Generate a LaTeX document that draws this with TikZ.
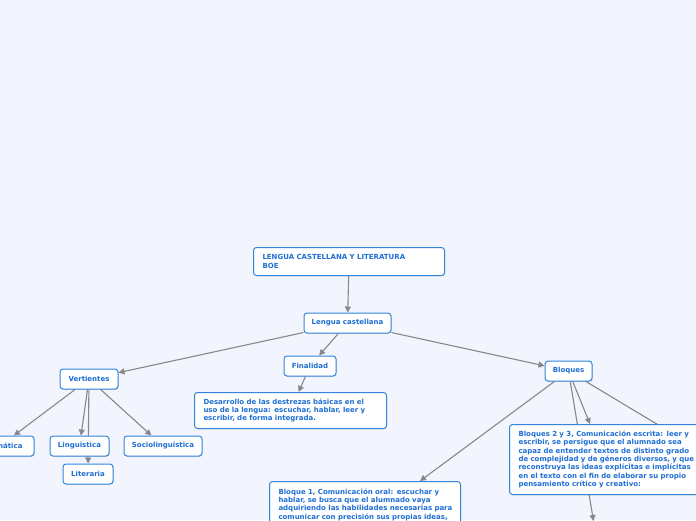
\documentclass[tikz,border=0pt]{standalone}
\usepackage{fontspec}
\setmainfont{DejaVu Sans}
\usetikzlibrary{arrows.meta,shadows,calc}
\definecolor{bgc}{RGB}{242,245,254}
\definecolor{boxb}{RGB}{52,132,222}
\definecolor{txtc}{RGB}{30,110,212}
\definecolor{linec}{RGB}{136,136,140}
\pgfdeclarelayer{bglayer}
\pgfdeclarelayer{edges}
\pgfsetlayers{bglayer,edges,main}
\tikzset{
  mmbox/.style={draw=boxb, line width=1pt, fill=white, rounded corners=3pt,
    text=txtc, font=\fontsize{7}{8.4}\selectfont\bfseries,
    drop shadow={shadow xshift=0.7pt, shadow yshift=-0.8pt, opacity=0.22, fill=black!60}},
  small/.style={mmbox, minimum height=20pt, inner xsep=2pt, inner ysep=2pt},
  para/.style={mmbox, align=left, inner xsep=9pt, inner ysep=5pt},
  conn/.style={draw=linec, line width=1.1pt},
  arr/.style={conn, -{Triangle[length=6pt,width=6pt]}},
}
\begin{document}
\begin{tikzpicture}[x=1pt,y=-1pt]
\begin{pgfonlayer}{bglayer}
\fill[bgc] (0,0) rectangle (696,520);
\end{pgfonlayer}
\useasboundingbox (0,0) rectangle (696,520);
\clip (0,0) rectangle (696,520);

\node[para, text width=173pt, minimum height=28pt, anchor=north west] (root) at (253,247)
  {LENGUA CASTELLANA Y LITERATURA\\BOE};
\node[small, minimum width=87pt] (lengua) at (347.5,323) {Lengua castellana};
\node[small, minimum width=52pt] (finalidad) at (310,366) {Finalidad};
\node[para, text width=174pt, minimum height=36pt, anchor=north west] (desarrollo) at (194,392)
  {Desarrollo de las destrezas básicas en el\\uso de la lengua: escuchar, hablar, leer y\\escribir, de forma integrada.};
\node[small, minimum width=58pt] (vert) at (89,379) {Vertientes};
\node[small, minimum width=68pt] (prag) at (0,446) {Pragmática};
\node[small, minimum width=59pt] (ling) at (79.5,446) {Linguistica};
\node[small, minimum width=78pt] (socio) at (163,446) {Sociolinguistica};
\node[small, minimum width=50pt] (lit) at (88,474) {Literaria};
\node[small, minimum width=47pt] (bloques) at (568.5,371) {Bloques};
\node[para, text width=178pt, minimum height=70pt, anchor=north west] (b23) at (509,424)
  {Bloques 2 y 3, Comunicación escrita: leer y\\escribir, se persigue que el alumnado sea\\capaz de entender textos de distinto grado\\de complejidad y de géneros diversos, y que\\reconstruya las ideas explícitas e implícitas\\en el texto con el fin de elaborar su propio\\pensamiento crítico y creativo:};
\node[para, text width=173pt, anchor=north west, inner ysep=7pt] (b1) at (269,481)
  {\mbox{Bloque 1, Comunicación oral: escuchar y}\\\mbox{hablar, se busca que el alumnado vaya}\\\mbox{adquiriendo las habilidades necesarias para}\\\mbox{comunicar con precisión sus propias ideas,}};

\coordinate (down) at (593.5,521);
\coordinate (right) at (690,444);

\begin{pgfonlayer}{edges}
\draw[arr] (root) -- (lengua);
\draw[arr] (lengua) -- (vert);
\draw[arr] (lengua) -- (finalidad);
\draw[arr] (lengua) -- (bloques);
\draw[arr] (finalidad) -- (desarrollo);
\draw[arr] (vert) -- (prag);
\draw[arr] (vert) -- (ling);
\draw[arr] (vert) -- (lit);
\draw[arr] (vert) -- (socio);
\draw[arr] (bloques) -- ($(b1.north west)+(151,0)$);
\draw[arr] (bloques) -- ($(b23.north west)+(81,0)$);
\draw[arr] (bloques) -- (down);
\draw[conn] (bloques) -- (right);
\end{pgfonlayer}
\end{tikzpicture}
\end{document}
